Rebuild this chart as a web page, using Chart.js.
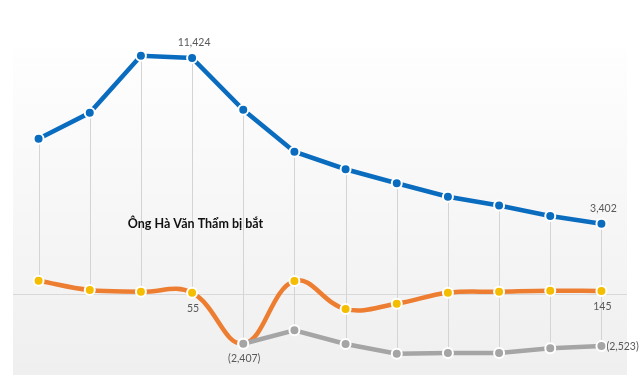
<!DOCTYPE html>
<html lang="vi">
<head>
<meta charset="utf-8">
<title>Chart</title>
<script src="https://cdn.jsdelivr.net/npm/chart.js@4.4.1/dist/chart.umd.min.js"></script>
<style>
  html, body { margin: 0; padding: 0; background: #fff; }
  #wrap { width: 640px; height: 375px; }
</style>
</head>
<body>
<div id="wrap"><canvas id="chart"></canvas></div>
<script>
// Values
const categories = ["1", "2", "3", "4", "5", "6", "7", "8", "9", "10", "11", "12"];
const blueValues = [7520, 8770, 11530, 11424, 8920, 6890, 6040, 5360, 4710, 4280, 3780, 3402];
const orangeValues = [640, 190, 110, 55, -2407, 630, -730, -470, 60, 110, 160, 145];
const grayValues = [null, null, null, null, -2407, -1760, -2420, -2890, -2860, -2860, -2630, -2523];
const annotationText = "Ông Hà Văn Thẩm bị bắt";

// which points carry a value label: [dataset, index, text, position]
const valueLabels = [
  [0, 3, "11,424", "above"],
  [0, 11, "3,402", "above"],
  [1, 3, "55", "below"],
  [2, 4, "(2,407)", "below"],
  [1, 11, "145", "below"],
  [2, 11, "(2,523)", "right"]
];

const fontFamily = "Lato, 'Noto Sans', sans-serif";

const decorPlugin = {
  id: "decor",
  beforeDatasetsDraw(chart) {
    const { ctx, chartArea } = chart;
    const x = chart.scales.x, y = chart.scales.y;
    ctx.save();
    // plot area gradient
    const g = ctx.createLinearGradient(0, chartArea.top, 0, chartArea.bottom);
    g.addColorStop(0, "#fefefe");
    g.addColorStop(1, "#efefef");
    ctx.fillStyle = g;
    ctx.fillRect(chartArea.left, chartArea.top, chartArea.right - chartArea.left, chartArea.bottom - chartArea.top);
    // zero line
    const y0 = Math.round(y.getPixelForValue(0)) + 0.5;
    ctx.strokeStyle = "#d9d9d9";
    ctx.lineWidth = 1;
    ctx.beginPath();
    ctx.moveTo(chartArea.left, y0);
    ctx.lineTo(chartArea.right, y0);
    ctx.stroke();
    // high-low lines
    ctx.strokeStyle = "#d4d4d4";
    categories.forEach((c, i) => {
      const vals = [blueValues[i], orangeValues[i], grayValues[i]].filter(v => v !== null);
      const px = Math.round(x.getPixelForValue(i)) + 0.5;
      ctx.beginPath();
      ctx.moveTo(px, y.getPixelForValue(Math.max(...vals)));
      ctx.lineTo(px, y.getPixelForValue(Math.min(...vals)));
      ctx.stroke();
    });
    // annotation text
    ctx.fillStyle = "#111";
    ctx.font = "bold 12.5px " + fontFamily;
    ctx.textAlign = "center";
    ctx.textBaseline = "middle";
    ctx.fillText(annotationText, (x.getPixelForValue(2) + x.getPixelForValue(3)) / 2 + 29, y.getPixelForValue(3400));
    ctx.restore();
  },
  afterDatasetsDraw(chart) {
    const { ctx } = chart;
    ctx.save();
    ctx.fillStyle = "#595959";
    ctx.font = "10.5px " + fontFamily;
    valueLabels.forEach(([d, i, text, pos]) => {
      const el = chart.getDatasetMeta(d).data[i];
      if (pos === "above") {
        ctx.textAlign = "center"; ctx.textBaseline = "bottom";
        ctx.fillText(text, el.x + 2, el.y - 10);
      } else if (pos === "below") {
        ctx.textAlign = "center"; ctx.textBaseline = "top";
        ctx.fillText(text, el.x + 1, el.y + 10);
      } else {
        ctx.textAlign = "left"; ctx.textBaseline = "middle";
        ctx.fillText(text, el.x + 5, el.y);
      }
    });
    ctx.restore();
  }
};

const pointStyle = (color) => ({
  pointRadius: 5,
  pointBorderWidth: 2,
  pointBackgroundColor: color,
  pointBorderColor: "#ffffff",
  pointHoverRadius: 5
});

new Chart(document.getElementById("chart"), {
  type: "line",
  data: {
    labels: categories,
    datasets: [
      Object.assign({
        label: "Blue",
        data: blueValues,
        borderColor: "#0a6cbf",
        borderWidth: 4.5,
        tension: 0,
        order: 2
      }, pointStyle("#0a6cbf")),
      Object.assign({
        label: "Orange",
        data: orangeValues,
        borderColor: "#ed7d31",
        borderWidth: 4.5,
        tension: 0.4,
        order: 1
      }, pointStyle("#f5bd00")),
      Object.assign({
        label: "Gray",
        data: grayValues,
        borderColor: "#a5a5a5",
        borderWidth: 4.5,
        tension: 0,
        order: 0
      }, pointStyle("#a5a5a5"))
    ]
  },
  options: {
    responsive: true,
    maintainAspectRatio: false,
    animation: false,
    layout: { autoPadding: false, padding: { left: 13, right: 13, top: 49, bottom: 0 } },
    plugins: {
      legend: { display: false },
      tooltip: { enabled: false }
    },
    scales: {
      x: { display: false, offset: true },
      y: { display: false, min: -3921, max: 11860 }
    }
  },
  plugins: [decorPlugin]
});
</script>
</body>
</html>
